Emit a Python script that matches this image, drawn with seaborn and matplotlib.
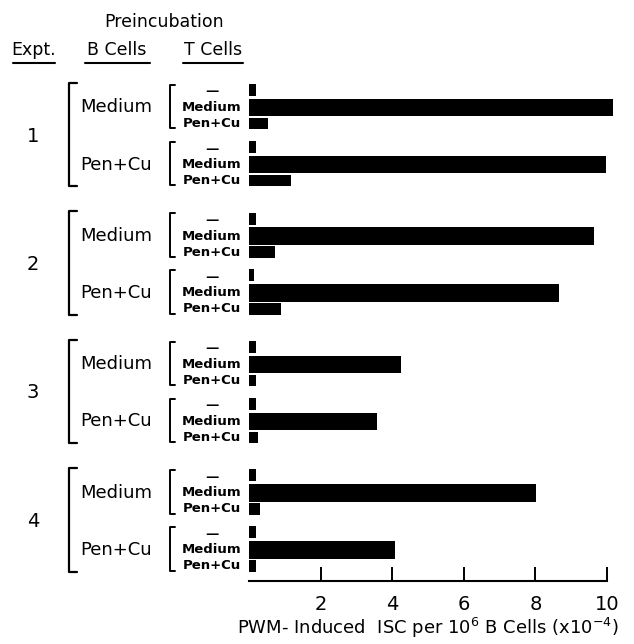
import numpy as np
import pandas as pd
import matplotlib
matplotlib.use("Agg")
import matplotlib.pyplot as plt
import matplotlib.transforms as mtrans
import seaborn as sns

# ---- data ----
experiments = ["1", "2", "3", "4"]
b_cells = ["Medium", "Pen+Cu"]
t_cells = ["—", "Medium", "Pen+Cu"]
t_labels = ["—", "Medium", "Pen+Cu"]
# ISC per 10^6 B cells (x10^-4); order: expt -> B cell -> T cell (-, Medium, Pen+Cu)
expt1 = [0.19, 10.16, 0.54, 0.20, 9.97, 1.16]
expt2 = [0.20, 9.64, 0.73, 0.14, 8.67, 0.89]
expt3 = [0.20, 4.25, 0.20, 0.20, 3.58, 0.26]
expt4 = [0.20, 8.02, 0.30, 0.20, 4.08, 0.20]
x_ticks = [2, 4, 6, 8, 10]

# ---- layout (pixel-like units) ----
EXPT_STEP = 128.5
GROUP_STEP = 57.0
ROW_OFF = [0.0, 17.5, 33.5]
ROW_H = [12.0, 17.5, 11.5]
Y0 = 90.0

rows = []
for e, vals in enumerate([expt1, expt2, expt3, expt4]):
    for g, b in enumerate(b_cells):
        for r, t in enumerate(t_cells):
            y = Y0 + e * EXPT_STEP + g * GROUP_STEP + ROW_OFF[r]
            rows.append(dict(expt=experiments[e], b=b, t=t, r=r,
                             ypos=y, value=vals[g * 3 + r]))
df = pd.DataFrame(rows)

sns.set_theme(style="white")
plt.rcParams["font.family"] = ["DejaVu Sans"]
plt.rcParams["mathtext.default"] = "regular"
plt.rcParams["text.color"] = "black"
plt.rcParams["axes.labelcolor"] = "black"
plt.rcParams["xtick.color"] = "black"

W, H = 634, 644
fig = plt.figure(figsize=(W / 100, H / 100), dpi=100)
ax_left, ax_top, ax_bot, px_per_unit = 249, 80, 581, 35.8
xmax = 10.4
ax = fig.add_axes([ax_left / W, (H - ax_bot) / H,
                   xmax * px_per_unit / W, (ax_bot - ax_top) / H])

sns.barplot(data=df, x="value", y="ypos", orient="y", native_scale=True,
            color="black", errorbar=None, width=0.8, ax=ax, saturation=1)

# set per-row bar thickness
ymap = {round(y, 2): r for y, r in zip(df["ypos"], df["r"])}
for p in ax.patches:
    cy = p.get_y() + p.get_height() / 2
    r = ymap.get(round(cy, 2))
    if r is None:
        continue
    h = ROW_H[r]
    p.set_height(h)
    p.set_y(cy - h / 2)
    p.set_edgecolor("black")
    p.set_linewidth(0)

ax.set_xlim(0, xmax)
ax.set_ylim(ax_bot, ax_top)
ax.set_yticks([])
ax.set_ylabel("")
ax.set_xticks(x_ticks)
ax.set_xticklabels([str(t) for t in x_ticks], fontsize=14, color="black")
ax.tick_params(axis="x", direction="in", length=10, width=1.4,
               color="black", pad=10, bottom=True)
for s in ["left", "top", "right"]:
    ax.spines[s].set_visible(False)
ax.spines["bottom"].set_bounds(0, 10)
ax.spines["bottom"].set_linewidth(1.5)
ax.spines["bottom"].set_color("black")

ax.set_xlabel(r"PWM- Induced  ISC per $10^6$ B Cells (x$10^{-4}$)",
              fontsize=13, color="black")
ax.xaxis.label.set_va("center")
ax.xaxis.set_label_coords((428 - ax_left) / (xmax * px_per_unit),
                          (ax_bot - 628) / (ax_bot - ax_top))

tr = mtrans.blended_transform_factory(fig.transFigure, ax.transData)

def fx(px):
    return px / W

# headers
ax.text(fx(164), 22, "Preincubation", transform=tr, ha="center", va="center",
        fontsize=12.5, clip_on=False, color="black")
for cx, lbl, x0, x1 in [(34, "Expt.", 13, 55), (117, "B Cells", 85, 150),
                        (213, "T Cells", 183, 243)]:
    ax.text(fx(cx), 50, lbl, transform=tr, ha="center", va="center",
            fontsize=12.5, clip_on=False, color="black")
    ax.plot([fx(x0), fx(x1)], [63, 63], transform=tr, color="black",
            lw=1.5, clip_on=False)

for e, ex in enumerate(experiments):
    base = Y0 + e * EXPT_STEP
    # expt number
    mid = base + ROW_OFF[1] + GROUP_STEP / 2
    ax.text(fx(33), mid, ex, transform=tr, ha="center", va="center",
            fontsize=14, clip_on=False, color="black")
    # big bracket
    top = base - 7
    bot = base + GROUP_STEP + ROW_OFF[2] + 6
    ax.plot([fx(77), fx(69), fx(69), fx(77)], [top, top, bot, bot],
            transform=tr, color="black", lw=1.6, clip_on=False)
    for g, b in enumerate(b_cells):
        gb = base + g * GROUP_STEP
        ax.text(fx(80), gb + ROW_OFF[1], b, transform=tr, ha="left",
                va="center", fontsize=13, clip_on=False, color="black")
        st, sb = gb - 5, gb + ROW_OFF[2] + 5
        ax.plot([fx(175), fx(169.5), fx(169.5), fx(175)], [st, st, sb, sb],
                transform=tr, color="black", lw=1.4, clip_on=False)
        for r, tl in enumerate(t_labels):
            ax.text(fx(212), gb + ROW_OFF[r] + (2 if r == 0 else 0), tl,
                    transform=tr, ha="center", va="center",
                    fontsize=9.5, fontweight="bold", clip_on=False,
                    color="black")

fig.savefig("out.png", dpi=100, facecolor="white")
